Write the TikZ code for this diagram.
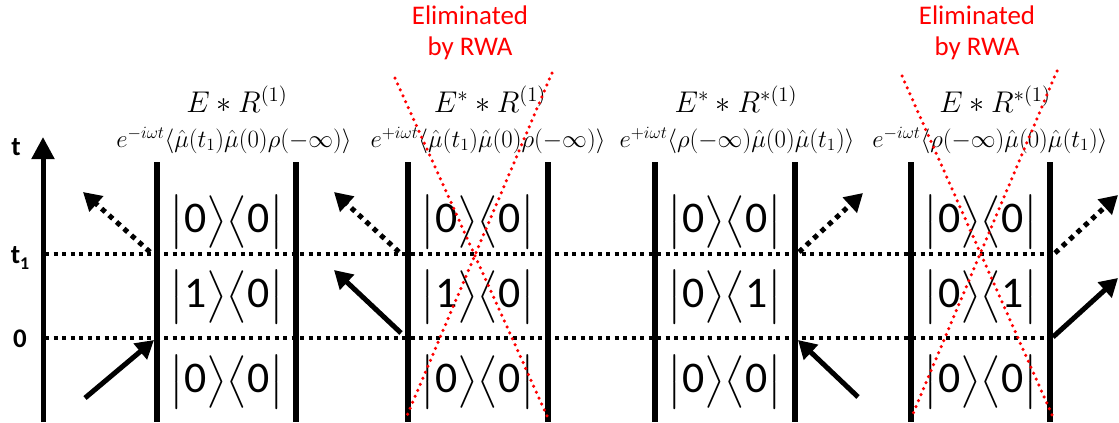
\documentclass[tikz,border=0pt]{standalone}
\usepackage{amsmath}
\usepackage{fontspec}
\setmainfont{Carlito}
\usetikzlibrary{arrows.meta}
\begin{document}
\begin{tikzpicture}[x=1bp,y=-1bp,
  bar/.style={line width=6.5bp},
  guide/.style={line width=3.5bp, dash pattern=on 4bp off 4.5bp},
  axisarr/.style={line width=5bp, -{Triangle[length=22bp,width=22bp]}},
  solidarr/.style={line width=5bp, -{Triangle[length=18bp,width=20bp]}},
  dotarr/.style={line width=5bp, dash pattern=on 5bp off 5bp, -{Triangle[length=18bp,width=20bp]}},
  rwa/.style={red, line width=3.5bp, dash pattern=on 0bp off 6.5bp, line cap=round},
  ket/.style={font=\fontsize{20.74}{25}\selectfont, inner sep=0pt, scale=2.12},
  hdr/.style={font=\fontsize{20.74}{25}\selectfont, inner sep=0pt, anchor=base, scale=1.45},
  corr/.style={font=\fontsize{20.74}{25}\selectfont, inner sep=0pt, anchor=base, scale=1.2},
  elim/.style={red, font=\fontsize{27}{31}\selectfont, align=center, inner sep=0pt},
  tlab/.style={font=\bfseries\fontsize{27}{30}\selectfont, inner sep=0pt}
]
\useasboundingbox (0,0) rectangle (1119,422);

% time axis
\coordinate (axb) at (43,422);
\coordinate (axt) at (43,137);
\draw[axisarr] (axb) -- (axt);
\node[tlab] (tl) at (16,147) {t};
\node[tlab] (t1l) at (20,258) {t\raisebox{-0.25em}{\fontsize{18}{20}\selectfont 1}};
\node[tlab] (zl) at (20,339) {0};

% guide lines
\coordinate (g1a) at (45,254); \coordinate (g1b) at (1053,254);
\coordinate (g0a) at (45,338); \coordinate (g0b) at (1053,338);
\draw[guide] (g1a) -- (g1b);
\draw[guide] (g0a) -- (g0b);

% bars
\foreach \n/\x in {a/157,b/296,c/408,d/548,e/655,f/795,g/911,h/1050}{
  \coordinate (\n top) at (\x,162);
  \coordinate (\n bot) at (\x,422);
  \draw[bar] (\n top) -- (\n bot);
}

% kets
\newcommand{\kb}[2]{$\big\lvert$#1$\big\rangle\big\langle$#2$\big\rvert$}
\node[ket] (k1a) at (227,222) {\kb{0}{0}};
\node[ket] (k1b) at (227,297) {\kb{1}{0}};
\node[ket] (k1c) at (227,382) {\kb{0}{0}};
\node[ket] (k2a) at (478,222) {\kb{0}{0}};
\node[ket] (k2b) at (478,297) {\kb{1}{0}};
\node[ket] (k2c) at (478,382) {\kb{0}{0}};
\node[ket] (k3a) at (725,222) {\kb{0}{0}};
\node[ket] (k3b) at (725,297) {\kb{0}{1}};
\node[ket] (k3c) at (725,382) {\kb{0}{0}};
\node[ket] (k4a) at (981,222) {\kb{0}{0}};
\node[ket] (k4b) at (981,297) {\kb{0}{1}};
\node[ket] (k4c) at (981,382) {\kb{0}{0}};

% headers
\node[hdr] (h1) at (237,112) {$E\ast R^{(1)}$};
\node[hdr] (h2) at (490,112) {$E^{*}\ast R^{(1)}$};
\node[hdr] (h3) at (736,112) {$E^{*}\ast R^{*(1)}$};
\node[hdr] (h4) at (995,112) {$E\ast R^{*(1)}$};

\node[corr] (c1) at (234,147) {$e^{-i\omega t}\langle\hat\mu(t_1)\hat\mu(0)\rho(-\infty)\rangle$};
\node[corr] (c2) at (488,147) {$e^{+i\omega t}\langle\hat\mu(t_1)\hat\mu(0)\rho(-\infty)\rangle$};
\node[corr] (c3) at (737,147) {$e^{+i\omega t}\langle\rho(-\infty)\hat\mu(0)\hat\mu(t_1)\rangle$};
\node[corr] (c4) at (990,147) {$e^{-i\omega t}\langle\rho(-\infty)\hat\mu(0)\hat\mu(t_1)\rangle$};

% arrows diagram 1
\coordinate (a1s) at (85,398); \coordinate (a1e) at (154,340);
\draw[solidarr] (a1s) -- (a1e);
\coordinate (a1ds) at (150,252); \coordinate (a1de) at (83,192);
\draw[dotarr] (a1ds) -- (a1de);
% diagram 2
\coordinate (a2s) at (401,333); \coordinate (a2e) at (334,270);
\draw[solidarr] (a2s) -- (a2e);
\coordinate (a2ds) at (399,252); \coordinate (a2de) at (334,192);
\draw[dotarr] (a2ds) -- (a2de);
% diagram 3
\coordinate (a3s) at (858,397); \coordinate (a3e) at (798,340);
\draw[solidarr] (a3s) -- (a3e);
\coordinate (a3ds) at (799,252); \coordinate (a3de) at (863,193);
\draw[dotarr] (a3ds) -- (a3de);
% diagram 4
\coordinate (a4s) at (1053,337); \coordinate (a4e) at (1118,278);
\draw[solidarr] (a4s) -- (a4e);
\coordinate (a4ds) at (1055,253); \coordinate (a4de) at (1118,195);
\draw[dotarr] (a4ds) -- (a4de);

% RWA crosses
\coordinate (x2a) at (395,78); \coordinate (x2b) at (548,418);
\coordinate (x2c) at (552,73); \coordinate (x2d) at (406,418);
\draw[rwa] (x2a) -- (x2b);
\draw[rwa] (x2c) -- (x2d);
\coordinate (x4a) at (902,76); \coordinate (x4b) at (1053,417);
\coordinate (x4c) at (1057,71); \coordinate (x4d) at (912,416);
\draw[rwa] (x4a) -- (x4b);
\draw[rwa] (x4c) -- (x4d);

\node[elim] (e2) at (470,33) {Eliminated\\by RWA};
\node[elim] (e4) at (977,33) {Eliminated\\by RWA};
\end{tikzpicture}
\end{document}
